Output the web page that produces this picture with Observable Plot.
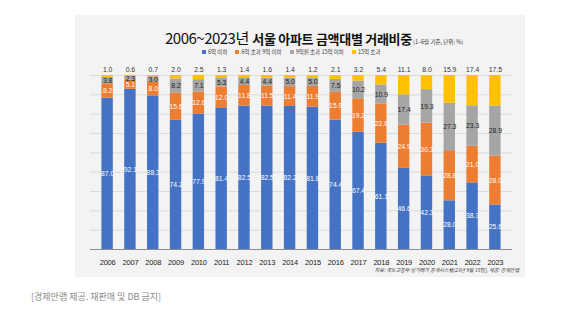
<!DOCTYPE html>
<html><head><meta charset="utf-8">
<script src="https://cdn.jsdelivr.net/npm/d3@7"></script>
<script src="https://cdn.jsdelivr.net/npm/@observablehq/plot@0.6"></script>
<style>
html,body{margin:0;padding:0;background:#fff}
body{width:569px;height:322px;position:relative;overflow:hidden;font-family:"Noto Sans CJK KR","Noto Sans",sans-serif}
#panel{position:absolute;left:75px;top:15px;width:450px;height:262px;background:#f3f3f3}
#chart{position:absolute;left:0;top:0}
#title{position:absolute;left:165px;top:29px;white-space:nowrap;color:#111;line-height:1}
#title .a{font-weight:400;letter-spacing:-0.5px;font-family:"Liberation Sans Narrow","Noto Sans CJK KR",sans-serif;font-size:15px}
#title .b{font-size:13px;font-weight:700;letter-spacing:-0.3px}
#title .c{font-size:5.5px;color:#333}
#legend{position:absolute;left:202px;top:50px;white-space:nowrap;font-size:5.5px;color:#444;line-height:1}
#legend span.i{margin-right:8px}
#legend b{display:inline-block;width:4px;height:4px;margin-right:2px;vertical-align:0}
#source{position:absolute;right:50px;top:266px;font-size:5px;font-style:italic;color:#333;white-space:nowrap}
#caption{position:absolute;left:31px;top:290px;font-size:9px;color:#8a8a8a;white-space:nowrap}
svg text{font-family:"Liberation Sans Narrow","Liberation Sans",sans-serif}
</style>
</head><body>
<div id="panel"></div>
<div id="chart"></div>
<div id="title"><span class="a">2006~2023년</span> <span class="b">서울 아파트 금액대별 거래비중</span><span class="c"> (1~6월 기준, 단위: %)</span></div>
<div id="legend"></div>
<div id="source">자료: 국토교통부 실거래가 공개시스템(23년 9월 15일), 제공: 경제만랩</div>
<div id="caption">[경제만랩 제공. 재판매 및 DB 금지]</div>
<script>
const years = ["2006","2007","2008","2009","2010","2011","2012","2013","2014","2015","2016","2017","2018","2019","2020","2021","2022","2023"];
const categories = ["6억 이하","6억 초과 9억 이하","9억원 초과 15억 이하","15억 초과"];
const colors = ["#4472C4","#ED7D31","#A5A5A5","#FFC000"];
const under6 =   [87.0,92.1,88.3,74.2,77.9,81.4,82.5,82.5,82.2,81.8,74.4,67.4,61.1,46.6,42.3,28.0,38.3,25.6];
const from6to9 = [8.2,5.1,8.0,15.6,12.6,12.0,11.8,11.5,11.4,11.9,15.9,19.2,22.6,24.9,30.3,28.8,21.0,28.0];
const from9to15 =[3.8,2.3,3.0,8.2,7.1,5.3,4.4,4.4,5.0,5.0,7.5,10.2,10.9,17.4,19.3,27.3,23.3,28.9];
const over15 =   [1.0,0.6,0.7,2.0,2.5,1.3,1.4,1.6,1.4,1.2,2.1,3.2,5.4,11.1,8.0,15.9,17.4,17.5];

const series = [under6, from6to9, from9to15, over15];
const rows = [];
years.forEach((y, i) => series.forEach((s, k) => rows.push({year: y, cat: categories[k], k, value: s[i]})));

const lg = document.getElementById("legend");
categories.forEach((c, k) => {
  const s = document.createElement("span"); s.className = "i";
  s.innerHTML = `<b style="background:${colors[k]}"></b>${c}`;
  lg.appendChild(s);
});

const grid = d3.range(1, 10).map(i => i * 100 / 9);
const fmt = v => v.toFixed(1);

const plot = Plot.plot({
  width: 569, height: 280,
  marginTop: 75, marginBottom: 31, marginLeft: 90, marginRight: 57,
  style: {background: "transparent", overflow: "visible"},
  x: {domain: years, padding: 0.5, round: false, label: null, tickSize: 0, tickPadding: 10},
  y: {domain: [0, 100], axis: null},
  color: {domain: categories, range: colors},
  marks: [
    Plot.ruleY(grid, {stroke: "#d6d6d6", strokeWidth: 0.8}),
    Plot.barY(rows, {x: "year", y: "value", fill: "cat"}),
    Plot.ruleY([0], {stroke: "#8c8c8c", strokeWidth: 1}),
    Plot.text(rows, Plot.stackY({x: "year", y: "value", z: "cat", text: d => d.k < 2 ? fmt(d.value) : "", fill: "white", fontSize: 6.8})),
    Plot.text(rows, Plot.stackY({x: "year", y: "value", z: "cat", text: d => d.k === 2 ? fmt(d.value) : "", fill: "#222", fontSize: 6.8})),
    Plot.text(years, {x: d => d, y: 100, dy: -6, text: (d, i) => fmt(over15[i]), fill: "#333", fontSize: 6.8})
  ]
});
plot.querySelectorAll("g[aria-label='x-axis tick label']").forEach(g => { g.setAttribute("font-size", "7.5"); g.setAttribute("letter-spacing", "-0.2"); g.setAttribute("fill", "#222"); });
document.getElementById("chart").appendChild(plot);
</script>
</body></html>
